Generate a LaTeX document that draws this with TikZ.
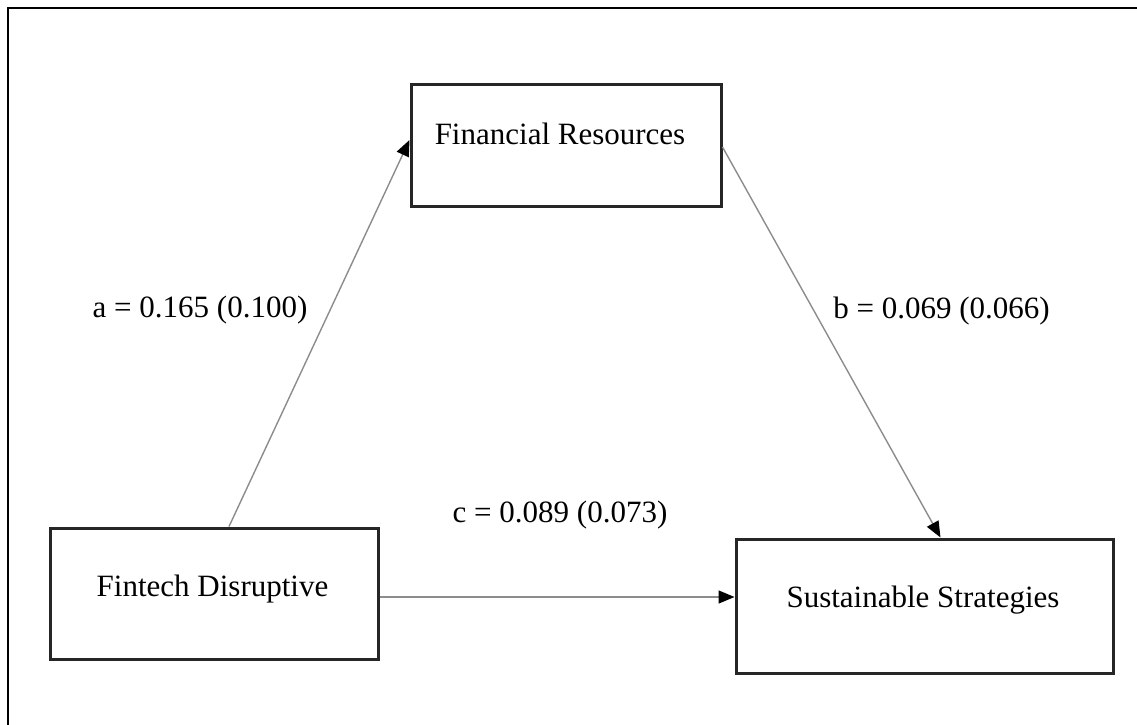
\documentclass[tikz,border=0pt]{standalone}
\usepackage{fontspec}
\setmainfont{Liberation Serif}
\usetikzlibrary{arrows.meta}
\begin{document}
\begin{tikzpicture}[x=1pt,y=-1pt,
  box/.style={draw=black!85, line width=3pt, line cap=round, line join=miter, minimum width=#1},
  boxtext/.style={anchor=base, inner sep=0pt, font=\fontsize{31}{36}\selectfont},
  coef/.style={anchor=base, inner sep=0pt, font=\fontsize{31}{36}\selectfont},
  path/.style={draw=black!45, line width=1.4pt, -{Triangle[length=16pt,width=13pt,color=black]}}]
  \useasboundingbox (0,0) rectangle (1137,725);
  % frame (top and left edges)
  \draw[line width=2pt] (8,725) -- (8,8) -- (1137,8);

  % variable boxes
  \node[box=310pt, minimum height=122pt] (fr) at (566,145) {};
  \node[box=328pt, minimum height=131pt] (fd) at (214,593.5) {};
  \node[box=377pt, minimum height=134pt] (ss) at (924.5,606) {};

  \node[boxtext] (frt) at (560,144) {Financial Resources};
  \node[boxtext] (fdt) at (212.5,596.7) {Fintech Disruptive};
  \node[boxtext] (sst) at (923,607) {Sustainable Strategies};

  % paths
  \draw[path] ([xshift=15pt]fd.north) -- ([yshift=5pt]fr.west);
  \draw[path] ([yshift=-2pt]fr.east) -- ([xshift=16pt]ss.north);
  \draw[path] ([yshift=-3.5pt]fd.east) -- ([yshift=-3.5pt]fd.east -| ss.west);

  % coefficients
  \node[coef] (la) at (200,317) {a = 0.165 (0.100)};
  \node[coef] (lb) at (941.5,318) {b = 0.069 (0.066)};
  \node[coef] (lc) at (560,522) {c = 0.089 (0.073)};
\end{tikzpicture}
\end{document}
